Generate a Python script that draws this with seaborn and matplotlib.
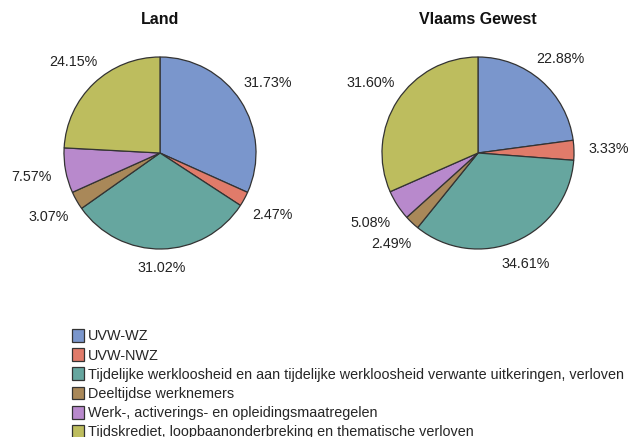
import numpy as np
import matplotlib
matplotlib.use("Agg")
import matplotlib.pyplot as plt
import seaborn as sns

categories = [
    "UVW-WZ",
    "UVW-NWZ",
    "Tijdelijke werkloosheid en aan tijdelijke werkloosheid verwante uitkeringen, verloven",
    "Deeltijdse werknemers",
    "Werk-, activerings- en opleidingsmaatregelen",
    "Tijdskrediet, loopbaanonderbreking en thematische verloven",
]
land = [31.73, 2.47, 31.02, 3.07, 7.57, 24.15]
vlaams = [22.88, 3.33, 34.61, 2.49, 5.08, 31.60]
titles = ["Land", "Vlaams Gewest"]

colors = ["#7A96CC", "#E07B6A", "#66A69F", "#A98859", "#B889CC", "#BDBD5E"]

sns.set_theme(style="white")
plt.rcParams["font.family"] = ["Liberation Sans", "DejaVu Sans"]

W, H = 628, 437
fig = plt.figure(figsize=(W / 100, H / 100), dpi=100)


def draw_pie(ax, values):
    wedges, _ = ax.pie(values, colors=colors, startangle=90, counterclock=False,
                       radius=1.0, wedgeprops=dict(edgecolor="#333333", linewidth=0.9))
    # labels sit outside the pie, pushed further out on the sides (wider text)
    for w, v in zip(wedges, values):
        ang = np.deg2rad((w.theta1 + w.theta2) / 2)
        d = 1.2 + 0.16 * abs(np.cos(ang))
        ax.text(d * np.cos(ang), d * np.sin(ang), f"{v:.2f}%", ha="center", va="center",
                fontsize=10.3, color="#222222")
    ax.set_xlim(-1.25, 1.25)
    ax.set_ylim(-1.25, 1.25)
    ax.set_aspect("equal")
    ax.axis("off")


side = 240
for cx, vals, t in [(160, land, titles[0]), (478, vlaams, titles[1])]:
    ax = fig.add_axes([(cx - side / 2) / W, (H - 153 - side / 2) / H, side / W, side / H])
    draw_pie(ax, vals)
    fig.text(cx / W, 1 - 20 / H, t, ha="center", va="center", fontsize=11.5,
             fontweight="bold", color="#111111")

handles = [plt.Rectangle((0, 0), 1, 1, facecolor=c, edgecolor="#333333", linewidth=0.9)
           for c in colors]
fig.legend(handles, categories, loc="upper left", bbox_to_anchor=(72 / W, 1 - 329 / H),
           frameon=False, fontsize=10.4, handlelength=0.8, handleheight=1.0,
           handletextpad=0.3, labelspacing=0.33, borderpad=0, borderaxespad=0)

fig.savefig("out.png", dpi=100)
